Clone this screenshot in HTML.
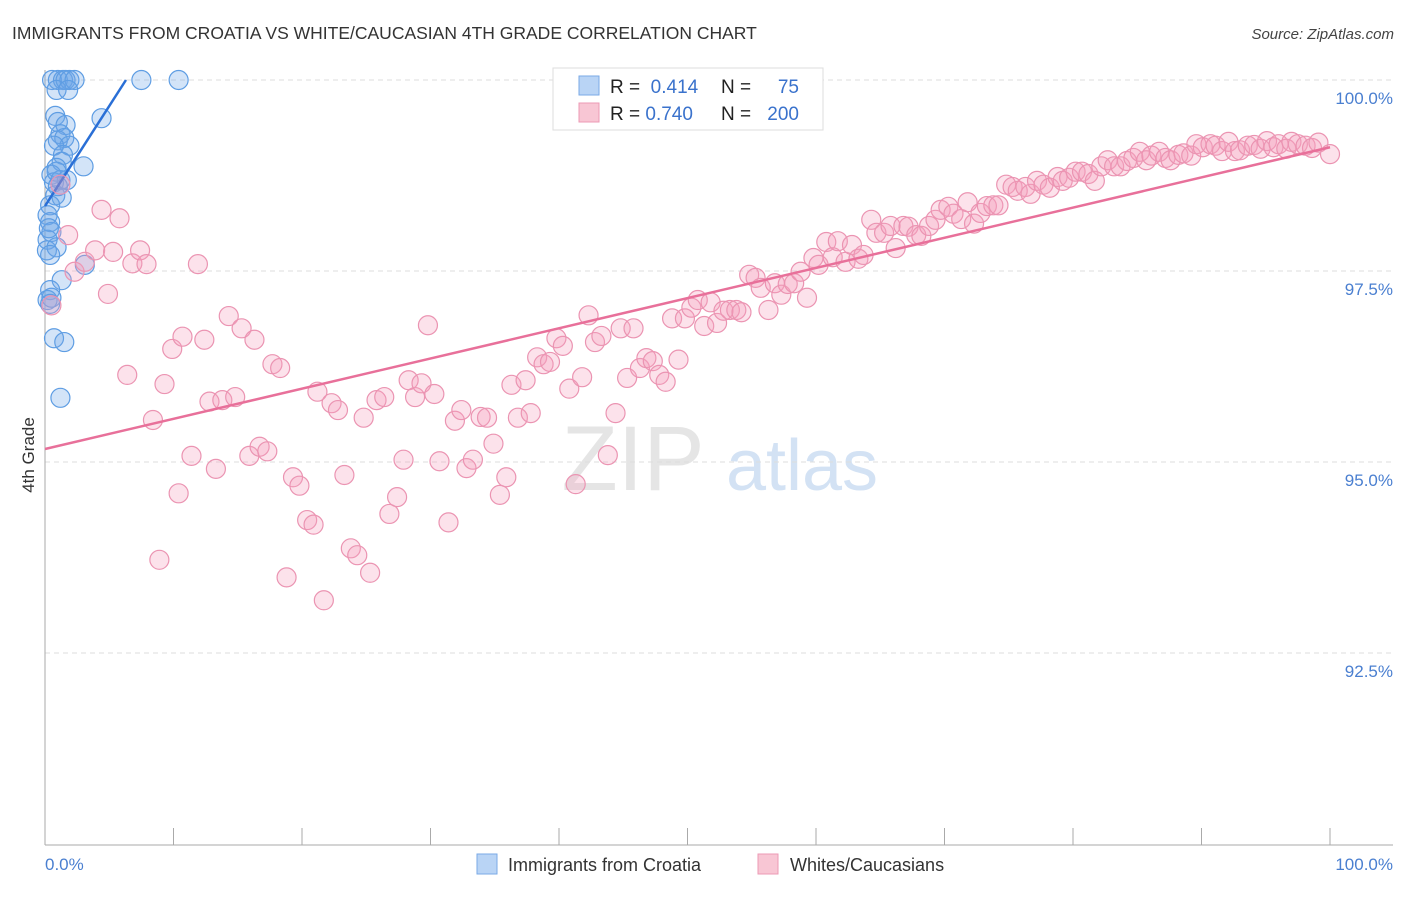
<!DOCTYPE html>
<html><head><meta charset="utf-8"><style>
body{margin:0;background:#fff;font-family:"Liberation Sans",sans-serif;}
svg text{font-family:"Liberation Sans",sans-serif;}
</style></head><body>
<svg id="chart" width="1406" height="892" xmlns="http://www.w3.org/2000/svg">
<text x="12" y="39" font-size="17.5" fill="#333">IMMIGRANTS FROM CROATIA VS WHITE/CAUCASIAN 4TH GRADE CORRELATION CHART</text>
<text x="1394" y="39" font-size="15" fill="#444" text-anchor="end" font-style="italic">Source: ZipAtlas.com</text>
<g>
<text x="633" y="490" font-size="92" fill="#ccc" opacity="0.5" text-anchor="middle" font-family="Liberation Serif">ZIP</text>
<text x="802" y="490" font-size="72" fill="#a9c6ea" opacity="0.5" text-anchor="middle">atlas</text>
</g>
<g id="grid"></g>
<g id="axes"></g>
<g id="blue"></g>
<g id="pink"></g>
<text transform="translate(34,455) rotate(-90)" font-size="17" fill="#333" text-anchor="middle">4th Grade</text>
<g>
<rect x="553" y="68" width="270" height="62" fill="#fff" stroke="#ddd"/>
<rect x="579" y="76" width="20" height="19" fill="#b9d4f5" stroke="#7aaae6"/>
<rect x="579" y="103" width="20" height="19" fill="#f8c6d4" stroke="#ec9ab5"/>
<text x="610" y="93" font-size="19" fill="#222">R = <tspan fill="#3a72cc">&#160;0.414</tspan></text>
<text x="721" y="93" font-size="19" fill="#222">N =</text>
<text x="799" y="93" font-size="19" fill="#3a72cc" text-anchor="end">75</text>
<text x="610" y="120" font-size="19" fill="#222">R = <tspan fill="#3a72cc">0.740</tspan></text>
<text x="721" y="120" font-size="19" fill="#222">N =</text>
<text x="799" y="120" font-size="19" fill="#3a72cc" text-anchor="end">200</text>
</g>
<g>
<rect x="477" y="854" width="20" height="20" fill="#b9d4f5" stroke="#7aaae6"/>
<text x="508" y="871" font-size="18" fill="#333">Immigrants from Croatia</text>
<rect x="758" y="854" width="20" height="20" fill="#f8c6d4" stroke="#ec9ab5"/>
<text x="790" y="871" font-size="18" fill="#333">Whites/Caucasians</text>
</g>
</svg>
<script>
const yTicks=[100,97.5,95,92.5];
const yTickLabels=["100.0%","97.5%","95.0%","92.5%"];
const xTickLabels=["0.0%","100.0%"];
const blueX=[0.55,1.0,1.4,1.6,1.9,2.3,0.9,1.8,7.5,10.4,0.8,1.0,1.6,4.4,1.2,1.0,1.5,1.9,0.7,1.4,1.3,0.9,3.0,0.5,0.7,1.2,1.7,0.8,1.3,0.4,0.2,0.4,0.5,0.2,0.15,0.9,0.4,1.3,0.4,0.2,0.5,0.4,0.7,1.5,1.2,0.9,1.0,0.3,3.1];
const blueY=[100,100,100,100,100,100,99.87,99.87,100,100,99.53,99.45,99.41,99.50,99.29,99.21,99.24,99.14,99.14,99.02,98.93,98.85,98.87,98.76,98.66,98.69,98.69,98.49,98.46,98.36,98.23,98.14,98.01,97.91,97.77,97.81,97.71,97.38,97.25,97.12,97.15,97.07,96.62,96.57,95.84,98.80,98.61,98.06,97.58];
const pinkX=[0.5,1.2,1.8,2.3,3.1,3.9,4.4,4.9,5.3,5.8,6.4,6.8,7.4,7.9,8.4,8.9,9.3,9.9,10.4,10.7,11.4,11.9,12.4,12.8,13.3,13.8,14.3,14.8,15.3,15.9,16.3,16.7,17.3,17.7,18.3,18.8,19.3,19.8,20.4,20.9,21.2,21.7,22.3,22.8,23.3,23.8,24.3,24.8,25.3,25.8,26.4,26.8,27.4,27.9,28.3,28.8,29.3,29.8,30.3,30.7,31.4,31.9,32.4,32.8,33.3,33.9,34.4,34.9,35.4,35.9,36.3,36.8,37.4,37.8,38.3,38.8,39.3,39.8,40.3,40.8,41.3,41.8,42.3,42.8,43.3,43.8,44.4,44.8,45.3,45.8,46.3,46.8,47.3,47.8,48.3,48.8,49.3,49.8,50.3,50.8,51.3,51.8,52.3,52.8,53.3,53.8,54.2,54.8,55.3,55.7,56.3,56.8,57.3,57.8,58.3,58.8,59.3,59.8,60.2,60.8,61.3,61.7,62.3,62.8,63.3,63.7,64.3,64.7,65.3,65.8,66.2,66.8,67.2,67.8,68.2,68.8,69.3,69.7,70.3,70.7,71.3,71.8,72.3,72.8,73.3,73.8,74.2,74.8,75.3,75.7,76.3,76.7,77.2,77.7,78.2,78.8,79.2,79.7,80.2,80.7,81.2,81.7,82.2,82.7,83.2,83.7,84.2,84.7,85.2,85.7,86.1,86.7,87.2,87.6,88.2,88.6,89.2,89.6,90.1,90.7,91.1,91.6,92.1,92.6,93.0,93.6,94.1,94.6,95.1,95.6,96.0,96.6,97.0,97.5,98.1,98.6,99.1,100];
const pinkY=[97.05,98.63,97.97,97.49,97.62,97.77,98.30,97.20,97.75,98.19,96.14,97.60,97.77,97.59,95.55,93.72,96.02,96.48,94.59,96.64,95.08,97.59,96.60,95.79,94.91,95.81,96.91,95.85,96.75,95.08,96.60,95.20,95.14,96.28,96.23,93.49,94.80,94.69,94.24,94.18,95.92,93.19,95.77,95.68,94.83,93.87,93.78,95.58,93.55,95.81,95.85,94.32,94.54,95.03,96.07,95.85,96.03,96.79,95.89,95.01,94.21,95.54,95.68,94.92,95.03,95.59,95.58,95.24,94.57,94.80,96.01,95.58,96.07,95.64,96.37,96.28,96.31,96.62,96.52,95.96,94.71,96.11,96.92,96.57,96.65,95.09,95.64,96.75,96.10,96.75,96.23,96.36,96.32,96.14,96.05,96.88,96.34,96.88,97.02,97.12,96.78,97.09,96.82,96.98,96.99,96.99,96.96,97.45,97.41,97.28,96.99,97.34,97.19,97.33,97.34,97.49,97.15,97.67,97.58,97.88,97.68,97.89,97.62,97.84,97.66,97.71,98.17,98.00,98.00,98.09,97.80,98.09,98.08,97.97,97.96,98.09,98.17,98.30,98.34,98.25,98.18,98.40,98.12,98.26,98.35,98.36,98.36,98.63,98.60,98.55,98.60,98.51,98.68,98.63,98.59,98.73,98.68,98.72,98.80,98.80,98.77,98.68,98.87,98.95,98.87,98.87,98.94,98.98,99.06,98.95,99.01,99.06,98.98,98.95,99.02,99.04,99.01,99.16,99.12,99.16,99.14,99.07,99.19,99.07,99.08,99.14,99.15,99.10,99.20,99.12,99.16,99.10,99.19,99.16,99.14,99.11,99.18,99.03];
const blueTrend=[[0,98.35],[6.3,100]];
const pinkTrend=[[0,95.17],[100,99.12]];

const NS="http://www.w3.org/2000/svg";
const X0=45,X1=1330,Y100=80,PXPER=76.4;
function xs(v){return X0+(X1-X0)*v/100;}
function ys(v){return Y100+(100-v)*PXPER;}
function mk(tag,attrs,parent){const e=document.createElementNS(NS,tag);for(const k in attrs)e.setAttribute(k,attrs[k]);parent.appendChild(e);return e;}
const grid=document.getElementById('grid'),axes=document.getElementById('axes');
yTicks.forEach((t,i)=>{
 const l=mk('line',{x1:X0,x2:1393,y1:ys(t),y2:ys(t),stroke:'#ddd','stroke-dasharray':'5,4'},grid);
 
 
 const tx=mk('text',{x:1393,y:ys(t)+24,'font-size':17,fill:'#4a7fd0','text-anchor':'end'},axes);
 tx.textContent=yTickLabels[i];
 
 
});
let a=mk('line',{x1:X0,x2:X0,y1:70,y2:845,stroke:'#aaa'},axes);


a=mk('line',{x1:X0,x2:1393,y1:845,y2:845,stroke:'#aaa'},axes);


for(let i=0;i<=10;i++){
 const t=mk('line',{x1:xs(i*10),x2:xs(i*10),y1:828,y2:845,stroke:'#aaa'},axes);
 
 
}
let xl=mk('text',{x:45,y:870,'font-size':17,fill:'#4a7fd0'},axes);xl.textContent=xTickLabels[0];


xl=mk('text',{x:1393,y:870,'font-size':17,fill:'#4a7fd0','text-anchor':'end'},axes);xl.textContent=xTickLabels[1];



function draw(g,X,Y,fill,stroke,trend,lc,name){
 X.forEach((v,i)=>{
  const c=mk('circle',{cx:xs(v),cy:ys(Y[i]),r:9.5,fill:fill,stroke:stroke,'stroke-width':1.2},g);
  
  
 });
 const l=mk('line',{x1:xs(trend[0][0]),y1:ys(trend[0][1]),x2:xs(trend[1][0]),y2:ys(trend[1][1]),stroke:lc,'stroke-width':2.5},g);
 
 
}
draw(document.getElementById('pink'),pinkX,pinkY,'rgba(244,160,188,0.3)','#eb94b2',pinkTrend,'#e8709a','white');
draw(document.getElementById('blue'),blueX,blueY,'rgba(110,165,232,0.3)','#5e9de3',blueTrend,'#2a6fd6','croatia');
</script>
</body></html>
